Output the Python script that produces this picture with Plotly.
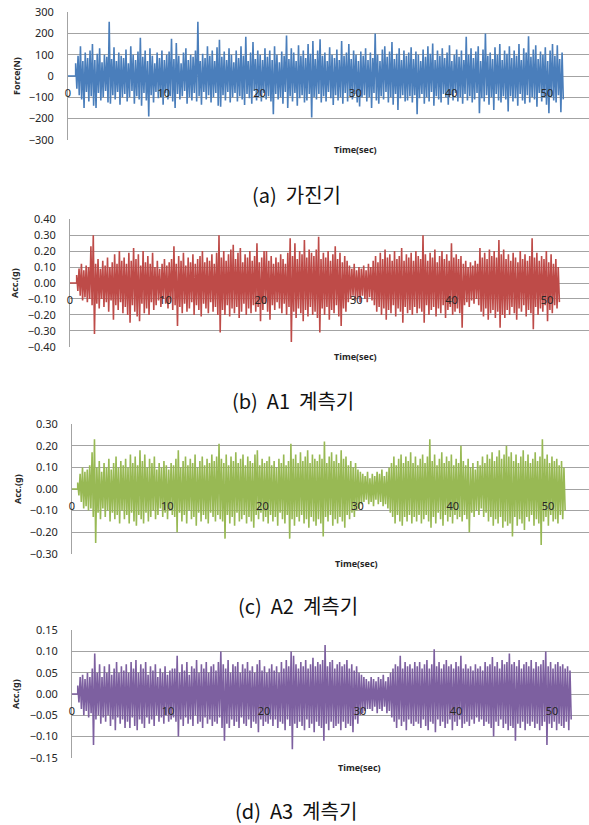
import numpy as np
import plotly.graph_objects as go

# ---------------------------------------------------------------------------
# Recorded signals, stored as alternating peak envelopes (upper / lower peak
# of each ~0.25 s window).  Units: Force in N, accelerations in g.
# ---------------------------------------------------------------------------

# (a) shaker force
force_hi = [
    60, 95, 140, 70, 110, 85, 120, 150, 75, 105, 130, 65, 100, 90, 255, 80, 135, 70, 110, 95,
    85, 125, 60, 140, 100, 75, 115, 180, 90, 120, 70, 130, 95, 60, 110, 85, 120, 75, 100, 115,
    175, 80, 155, 95, 60, 110, 130, 75, 100, 90, 120, 255, 70, 105, 85, 140, 95, 120, 70, 135,
    170, 90, 115, 75, 130, 100, 65, 120, 85, 140, 95, 185, 70, 110, 160, 80, 120, 100, 75, 130,
    90, 120, 75, 140, 100, 65, 115, 95, 190, 80, 130, 110, 70, 145, 95, 120, 85, 150, 105, 165,
    80, 120, 173, 95, 110, 70, 135, 100, 85, 125, 75, 165, 95, 110, 150, 80, 120, 100, 70, 115,
    95, 130, 75, 110, 85, 200, 100, 70, 125, 140, 90, 115, 160, 80, 105, 130, 75, 120, 95, 110,
    135, 80, 115, 100, 70, 125, 90, 140, 105, 153, 75, 120, 95, 130, 85, 110, 145, 70, 100, 125,
    90, 120, 75, 185, 100, 130, 85, 115, 140, 70, 125, 200, 95, 110, 80, 135, 100, 150, 75, 120,
    105, 140, 85, 120, 95, 150, 75, 130, 110, 187, 90, 125, 145, 80, 115, 100, 135, 70, 120, 150,
    95, 145, 80, 110,
]
force_lo = [
    -60, -90, -110, -150, -75, -120, -95, -140, -150, -80, -115, -100, -70, -125, -130, -90, -110, -75, -135, -100,
    -85, -120, -100, -70, -130, -95, -110, -140, -80, -115, -190, -90, -125, -75, -105, -100, -135, -80, -110, -95,
    -120, -150, -85, -110, -95, -70, -130, -100, -115, -80, -120, -95, -135, -75, -110, -90, -125, -100, -80, -140,
    -145, -90, -115, -75, -125, -100, -80, -120, -95, -110, -136, -85, -105, -130, -70, -115, -95, -120, -80, -110,
    -95, -120, -180, -85, -110, -100, -130, -75, -150, -95, -120, -80, -140, -105, -90, -125, -115, -85, -195, -100,
    -110, -85, -125, -95, -120, -75, -105, -136, -90, -115, -100, -130, -80, -120, -95, -110, -85, -125, -143, -100,
    -90, -120, -100, -150, -80, -115, -130, -95, -110, -75, -125, -100, -135, -85, -160, -105, -90, -120, -115, -95,
    -125, -90, -180, -105, -85, -130, -100, -120, -75, -140, -95, -110, -125, -85, -100, -135, -90, -115, -80, -120,
    -100, -130, -85, -115, -95, -125, -110, -80, -175, -105, -120, -90, -135, -100, -160, -85, -115, -125, -95, -110,
    -167, -95, -120, -105, -140, -85, -115, -130, -90, -125, -100, -110, -145, -80, -120, -100, -135, -175, -95, -115,
    -125, -90, -170, -110,
]

# (b) accelerometer A1
a1_hi = [
    0.05, 0.09, 0.12, 0.08, 0.11, 0.10, 0.23, 0.30, 0.12, 0.15, 0.09, 0.14, 0.11, 0.16, 0.10, 0.13, 0.18, 0.12, 0.20, 0.14,
    0.16, 0.12, 0.19, 0.14, 0.22, 0.15, 0.18, 0.11, 0.20, 0.13, 0.17, 0.12, 0.19, 0.10, 0.14, 0.09, 0.12, 0.15, 0.11, 0.13,
    0.15, 0.23, 0.12, 0.17, 0.14, 0.19, 0.11, 0.16, 0.13, 0.18, 0.12, 0.15, 0.17, 0.20, 0.13, 0.16, 0.14, 0.18, 0.12, 0.19,
    0.30, 0.16, 0.20, 0.14, 0.18, 0.21, 0.24, 0.15, 0.19, 0.22, 0.13, 0.18, 0.16, 0.20, 0.14, 0.17, 0.25, 0.13, 0.16, 0.20,
    0.20, 0.14, 0.17, 0.12, 0.16, 0.13, 0.18, 0.15, 0.12, 0.19, 0.28, 0.17, 0.25, 0.15, 0.20, 0.18, 0.27, 0.16, 0.21, 0.19,
    0.17, 0.21, 0.29, 0.15, 0.19, 0.16, 0.20, 0.14, 0.18, 0.23, 0.15, 0.19, 0.13, 0.17, 0.14, 0.11, 0.09, 0.12, 0.08, 0.10,
    0.09, 0.11, 0.08, 0.12, 0.10, 0.14, 0.17, 0.13, 0.19, 0.15, 0.21, 0.16, 0.18, 0.14, 0.20, 0.15, 0.17, 0.22, 0.14, 0.18,
    0.16, 0.19, 0.14, 0.20, 0.17, 0.15, 0.30, 0.18, 0.14, 0.19, 0.16, 0.21, 0.13, 0.17, 0.20, 0.15, 0.18, 0.14, 0.25, 0.16,
    0.18, 0.15, 0.17, 0.12, 0.14, 0.10, 0.13, 0.11, 0.14, 0.12, 0.22, 0.16, 0.19, 0.15, 0.21, 0.17, 0.20, 0.16, 0.27, 0.18,
    0.21, 0.15, 0.18, 0.14, 0.19, 0.16, 0.13, 0.20, 0.15, 0.18, 0.14, 0.17, 0.28, 0.16, 0.19, 0.14, 0.17, 0.15, 0.20, 0.13,
    0.18, 0.12, 0.15, 0.10,
]
a1_lo = [
    -0.05, -0.08, -0.11, -0.09, -0.12, -0.10, -0.14, -0.32, -0.13, -0.16, -0.10, -0.15, -0.12, -0.18, -0.11, -0.23, -0.14, -0.17, -0.12, -0.19,
    -0.15, -0.20, -0.25, -0.14, -0.18, -0.21, -0.24, -0.13, -0.19, -0.16, -0.20, -0.12, -0.17, -0.14, -0.11, -0.15, -0.10, -0.13, -0.16, -0.12,
    -0.17, -0.14, -0.27, -0.15, -0.19, -0.13, -0.18, -0.16, -0.12, -0.20, -0.14, -0.17, -0.21, -0.13, -0.16, -0.19, -0.12, -0.18, -0.15, -0.20,
    -0.31, -0.17, -0.20, -0.14, -0.21, -0.16, -0.19, -0.15, -0.22, -0.18, -0.13, -0.20, -0.16, -0.19, -0.14, -0.18, -0.15, -0.24, -0.17, -0.13,
    -0.18, -0.23, -0.14, -0.17, -0.12, -0.16, -0.19, -0.13, -0.20, -0.15, -0.37, -0.18, -0.22, -0.16, -0.19, -0.24, -0.17, -0.21, -0.15, -0.20,
    -0.18, -0.22, -0.31, -0.16, -0.20, -0.15, -0.23, -0.17, -0.19, -0.14, -0.21, -0.27, -0.16, -0.18, -0.12, -0.10, -0.08, -0.11, -0.09, -0.12,
    -0.08, -0.10, -0.12, -0.09, -0.11, -0.14, -0.18, -0.15, -0.20, -0.16, -0.23, -0.17, -0.19, -0.14, -0.21, -0.16, -0.18, -0.25, -0.15, -0.19,
    -0.17, -0.20, -0.15, -0.19, -0.16, -0.18, -0.25, -0.14, -0.20, -0.17, -0.15, -0.21, -0.16, -0.19, -0.14, -0.22, -0.17, -0.15, -0.20, -0.18,
    -0.16, -0.19, -0.28, -0.14, -0.12, -0.15, -0.11, -0.13, -0.10, -0.14, -0.18, -0.21, -0.16, -0.23, -0.19, -0.17, -0.22, -0.18, -0.28, -0.20,
    -0.22, -0.17, -0.20, -0.15, -0.19, -0.23, -0.16, -0.18, -0.14, -0.21, -0.17, -0.19, -0.29, -0.15, -0.20, -0.16, -0.18, -0.14, -0.24, -0.17,
    -0.19, -0.14, -0.16, -0.12,
]

# (c) accelerometer A2
a2_hi = [
    0.03, 0.07, 0.10, 0.08, 0.09, 0.11, 0.17, 0.23, 0.10, 0.13, 0.08, 0.12, 0.10, 0.14, 0.09, 0.12, 0.15, 0.10, 0.13, 0.11,
    0.14, 0.10, 0.16, 0.12, 0.15, 0.11, 0.18, 0.13, 0.16, 0.10, 0.14, 0.12, 0.15, 0.09, 0.12, 0.10, 0.13, 0.11, 0.09, 0.12,
    0.11, 0.14, 0.18, 0.10, 0.13, 0.15, 0.11, 0.14, 0.12, 0.16, 0.10, 0.13, 0.15, 0.11, 0.14, 0.12, 0.16, 0.13, 0.15, 0.21,
    0.14, 0.12, 0.16, 0.11, 0.15, 0.13, 0.17, 0.12, 0.14, 0.16, 0.11, 0.15, 0.13, 0.12, 0.16, 0.18, 0.11, 0.14, 0.12, 0.13,
    0.15, 0.11, 0.13, 0.10, 0.14, 0.12, 0.16, 0.11, 0.13, 0.21, 0.14, 0.16, 0.12, 0.17, 0.13, 0.15, 0.18, 0.12, 0.16, 0.14,
    0.13, 0.16, 0.14, 0.22, 0.12, 0.15, 0.17, 0.13, 0.16, 0.12, 0.18, 0.14, 0.15, 0.11, 0.13, 0.10, 0.12, 0.09, 0.08, 0.07,
    0.06, 0.08, 0.05, 0.07, 0.06, 0.08, 0.07, 0.09, 0.06, 0.08, 0.10, 0.12, 0.15, 0.11, 0.14, 0.16, 0.12, 0.15, 0.13, 0.17,
    0.12, 0.15, 0.11, 0.14, 0.16, 0.12, 0.15, 0.23, 0.13, 0.16, 0.11, 0.14, 0.17, 0.12, 0.15, 0.13, 0.16, 0.11, 0.14, 0.12,
    0.20, 0.13, 0.11, 0.14, 0.10, 0.12, 0.09, 0.13, 0.11, 0.15, 0.12, 0.16, 0.14, 0.17, 0.13, 0.15, 0.18, 0.14, 0.16, 0.20,
    0.15, 0.17, 0.13, 0.16, 0.12, 0.15, 0.18, 0.13, 0.16, 0.12, 0.14, 0.17, 0.13, 0.15, 0.23, 0.14, 0.16, 0.12, 0.15, 0.13,
    0.14, 0.11, 0.13, 0.10,
]
a2_lo = [
    -0.03, -0.06, -0.09, -0.08, -0.10, -0.09, -0.13, -0.25, -0.11, -0.14, -0.09, -0.13, -0.10, -0.15, -0.11, -0.14, -0.12, -0.16, -0.10, -0.14,
    -0.12, -0.16, -0.11, -0.15, -0.17, -0.12, -0.14, -0.16, -0.11, -0.15, -0.13, -0.10, -0.14, -0.12, -0.09, -0.13, -0.11, -0.14, -0.10, -0.12,
    -0.13, -0.20, -0.11, -0.15, -0.12, -0.16, -0.10, -0.14, -0.13, -0.17, -0.11, -0.15, -0.12, -0.14, -0.16, -0.11, -0.13, -0.15, -0.12, -0.14,
    -0.15, -0.23, -0.12, -0.16, -0.13, -0.17, -0.11, -0.15, -0.14, -0.12, -0.16, -0.13, -0.15, -0.18, -0.12, -0.14, -0.11, -0.15, -0.13, -0.16,
    -0.12, -0.15, -0.13, -0.17, -0.11, -0.14, -0.16, -0.12, -0.23, -0.14, -0.17, -0.13, -0.15, -0.12, -0.16, -0.14, -0.18, -0.13, -0.15, -0.17,
    -0.14, -0.16, -0.22, -0.13, -0.15, -0.12, -0.17, -0.14, -0.16, -0.13, -0.15, -0.18, -0.12, -0.14, -0.11, -0.13, -0.10, -0.09, -0.07, -0.06,
    -0.05, -0.07, -0.06, -0.08, -0.05, -0.07, -0.06, -0.08, -0.07, -0.09, -0.11, -0.13, -0.16, -0.12, -0.15, -0.17, -0.13, -0.15, -0.12, -0.16,
    -0.13, -0.15, -0.12, -0.16, -0.14, -0.12, -0.15, -0.18, -0.13, -0.16, -0.11, -0.14, -0.17, -0.12, -0.15, -0.13, -0.16, -0.12, -0.14, -0.13,
    -0.15, -0.12, -0.14, -0.20, -0.11, -0.13, -0.10, -0.12, -0.09, -0.13, -0.11, -0.15, -0.13, -0.17, -0.14, -0.16, -0.13, -0.18, -0.15, -0.17,
    -0.16, -0.22, -0.13, -0.17, -0.14, -0.16, -0.19, -0.13, -0.15, -0.12, -0.17, -0.14, -0.16, -0.26, -0.15, -0.13, -0.17, -0.12, -0.15, -0.14,
    -0.16, -0.12, -0.14, -0.10,
]

# (d) accelerometer A3
a3_hi = [
    0.02, 0.04, 0.045, 0.035, 0.05, 0.04, 0.06, 0.095, 0.05, 0.07, 0.04, 0.065, 0.05, 0.07, 0.045, 0.06, 0.075, 0.05, 0.065, 0.055,
    0.07, 0.05, 0.075, 0.06, 0.08, 0.05, 0.07, 0.06, 0.075, 0.045, 0.065, 0.055, 0.07, 0.04, 0.06, 0.05, 0.065, 0.045, 0.055, 0.06,
    0.06, 0.09, 0.05, 0.07, 0.055, 0.075, 0.045, 0.065, 0.06, 0.08, 0.05, 0.07, 0.06, 0.075, 0.05, 0.065, 0.07, 0.055, 0.075, 0.10,
    0.07, 0.06, 0.08, 0.05, 0.07, 0.065, 0.075, 0.05, 0.07, 0.06, 0.075, 0.055, 0.065, 0.05, 0.07, 0.08, 0.055, 0.065, 0.05, 0.06,
    0.07, 0.055, 0.065, 0.05, 0.075, 0.06, 0.08, 0.065, 0.10, 0.09, 0.07, 0.06, 0.075, 0.065, 0.08, 0.06, 0.07, 0.085, 0.065, 0.075,
    0.07, 0.08, 0.115, 0.065, 0.075, 0.08, 0.06, 0.07, 0.075, 0.065, 0.07, 0.08, 0.06, 0.07, 0.055, 0.065, 0.05, 0.045, 0.04, 0.035,
    0.03, 0.04, 0.035, 0.03, 0.04, 0.035, 0.045, 0.03, 0.04, 0.05, 0.06, 0.07, 0.065, 0.09, 0.06, 0.075, 0.065, 0.07, 0.06, 0.075,
    0.065, 0.075, 0.06, 0.07, 0.08, 0.06, 0.07, 0.105, 0.065, 0.075, 0.06, 0.07, 0.08, 0.065, 0.07, 0.06, 0.075, 0.065, 0.09, 0.06,
    0.07, 0.06, 0.065, 0.055, 0.07, 0.06, 0.065, 0.055, 0.075, 0.065, 0.07, 0.087, 0.065, 0.075, 0.06, 0.08, 0.07, 0.075, 0.095, 0.07,
    0.075, 0.065, 0.08, 0.06, 0.07, 0.075, 0.065, 0.08, 0.06, 0.075, 0.065, 0.07, 0.08, 0.10, 0.065, 0.075, 0.06, 0.07, 0.075, 0.065,
    0.07, 0.06, 0.065, 0.055,
]
a3_lo = [
    -0.02, -0.035, -0.05, -0.04, -0.055, -0.045, -0.12, -0.06, -0.05, -0.07, -0.055, -0.065, -0.05, -0.075, -0.06, -0.085, -0.055, -0.07, -0.06, -0.08,
    -0.065, -0.08, -0.055, -0.075, -0.085, -0.06, -0.07, -0.08, -0.055, -0.07, -0.06, -0.075, -0.05, -0.065, -0.055, -0.07, -0.05, -0.065, -0.06, -0.055,
    -0.065, -0.10, -0.06, -0.075, -0.055, -0.07, -0.06, -0.075, -0.05, -0.07, -0.065, -0.08, -0.055, -0.07, -0.06, -0.075, -0.065, -0.07, -0.055, -0.08,
    -0.11, -0.07, -0.08, -0.06, -0.075, -0.065, -0.08, -0.055, -0.07, -0.075, -0.06, -0.08, -0.065, -0.07, -0.09, -0.06, -0.075, -0.065, -0.07, -0.06,
    -0.075, -0.06, -0.08, -0.065, -0.07, -0.085, -0.06, -0.075, -0.13, -0.07, -0.08, -0.065, -0.075, -0.085, -0.06, -0.08, -0.07, -0.09, -0.065, -0.075,
    -0.08, -0.11, -0.07, -0.085, -0.065, -0.08, -0.075, -0.07, -0.085, -0.065, -0.08, -0.07, -0.075, -0.09, -0.06, -0.07, -0.05, -0.045, -0.04, -0.035,
    -0.035, -0.04, -0.03, -0.045, -0.035, -0.04, -0.03, -0.045, -0.04, -0.055, -0.065, -0.08, -0.06, -0.075, -0.065, -0.085, -0.06, -0.07, -0.075, -0.065,
    -0.07, -0.08, -0.06, -0.075, -0.085, -0.065, -0.07, -0.09, -0.06, -0.075, -0.065, -0.08, -0.07, -0.06, -0.085, -0.065, -0.075, -0.06, -0.08, -0.07,
    -0.065, -0.075, -0.06, -0.07, -0.055, -0.065, -0.06, -0.075, -0.065, -0.07, -0.08, -0.10, -0.065, -0.075, -0.06, -0.08, -0.07, -0.085, -0.075, -0.08,
    -0.11, -0.07, -0.08, -0.065, -0.085, -0.07, -0.075, -0.065, -0.08, -0.07, -0.085, -0.075, -0.065, -0.12, -0.07, -0.08, -0.065, -0.085, -0.07, -0.075,
    -0.08, -0.065, -0.085, -0.06,
]

# recording window of each channel (s): signal onset and end
t_onset = [0.8, 0.7, 0.6, 0.6]
t_end = [51.7, 51.3, 51.8, 52.0]

captions = ["(a) \u00a0가진기", "(b) \u00a0A1 \u00a0계측기", "(c) \u00a0A2 \u00a0계측기", "(d) \u00a0A3 \u00a0계측기"]
y_titles = ["Force(N)", "Acc.(g)", "Acc.(g)", "Acc.(g)"]
y_limits = [300, 0.40, 0.30, 0.15]
y_steps = [100, 0.10, 0.10, 0.05]
y_formats = ["d", ".2f", ".2f", ".2f"]
x_ticks = [0, 10, 20, 30, 40, 50]
colors = ["#4A7EBB", "#BE4B48", "#98B954", "#7D60A0"]
series = [(force_hi, force_lo), (a1_hi, a1_lo), (a2_hi, a2_lo), (a3_hi, a3_lo)]

# ---------------------------------------------------------------------------
# Page layout in pixels
# ---------------------------------------------------------------------------
W, H = 589, 825
# plot box: left edge, top, bottom, pixel position of t = 50 s
boxes = [(68, 12, 140, 547), (70, 219, 347, 547), (72, 424, 554, 548), (72, 630, 758, 552)]
ytitle_x = [16, 14, 17, 15]
time_title = [(355, 149), (355, 356), (357, 563), (359, 767)]
caption_pos = [(296, 195), (293, 400), (298, 605), (296, 810)]

GRID = "#A3A3A3"
TXT = "#262626"


def px(x):
    return x / W


def py(y):
    return 1 - y / H


fig = go.Figure()

for i, ((hi, lo), (left, top, bottom, x50)) in enumerate(zip(series, boxes)):
    k = i + 1
    n = len(hi)
    # interleave upper and lower peaks along the time axis
    t = np.linspace(t_onset[i], t_end[i], 2 * n)
    v = np.empty(2 * n)
    v[0::2] = hi
    v[1::2] = lo
    # flat pre-trigger segment before the excitation starts
    t = np.concatenate([[0.0, t_onset[i]], t])
    v = np.concatenate([[0.0, 0.0], v])

    fig.add_trace(go.Scatter(
        x=t, y=v, mode="lines",
        line=dict(color=colors[i], width=1.6, simplify=False),
        xaxis=f"x{k}", yaxis=f"y{k}", showlegend=False, hoverinfo="skip",
    ))

    x_max = 50 * (W - left) / (x50 - left)
    zero_pix = (top + bottom) / 2
    lim = y_limits[i]
    pad = lim * 0.004

    fig.update_layout(**{
        f"xaxis{k}": dict(
            domain=[px(left), 1], range=[0, x_max],
            anchor="free", position=py(zero_pix), automargin=False,
            tickvals=x_ticks, ticktext=[str(v) for v in x_ticks],
            ticks="outside", ticklen=7, tickcolor="rgba(0,0,0,0)",
            showgrid=False, zeroline=False, showline=False,
            tickfont=dict(family="Noto Sans", size=11, color=TXT),
        ),
        f"yaxis{k}": dict(
            domain=[py(bottom), py(top)], range=[-lim - pad, lim + pad],
            anchor=f"x{k}", automargin=False,
            tickmode="linear", tick0=-lim, dtick=y_steps[i], tickformat=y_formats[i],
            ticks="outside", ticklen=11, tickcolor="rgba(0,0,0,0)",
            showgrid=True, gridcolor=GRID, gridwidth=1,
            zeroline=True, zerolinecolor=GRID, zerolinewidth=1,
            showline=True, linecolor=GRID, linewidth=1,
            tickfont=dict(family="Noto Sans", size=11, color=TXT),
        ),
    })

    fig.add_annotation(
        text=f"<b>{y_titles[i]}</b>", textangle=-90,
        x=px(ytitle_x[i]), y=py(zero_pix), xref="paper", yref="paper",
        xanchor="center", yanchor="middle",
        showarrow=False, font=dict(family="Noto Sans", size=9, color=TXT),
    )
    fig.add_annotation(
        text="<b>Time(sec)</b>",
        x=px(time_title[i][0]), y=py(time_title[i][1]), xref="paper", yref="paper",
        xanchor="center", yanchor="middle",
        showarrow=False, font=dict(family="Noto Sans", size=9, color=TXT),
    )
    fig.add_annotation(
        text=captions[i],
        x=px(caption_pos[i][0]), y=py(caption_pos[i][1]), xref="paper", yref="paper",
        xanchor="center", yanchor="middle",
        showarrow=False, font=dict(family="Noto Sans CJK KR", size=20, color="#111111"),
    )

fig.update_layout(
    width=W, height=H,
    margin=dict(l=0, r=0, t=0, b=0, autoexpand=False),
    paper_bgcolor="white", plot_bgcolor="white",
)

fig.write_html("out.html")
